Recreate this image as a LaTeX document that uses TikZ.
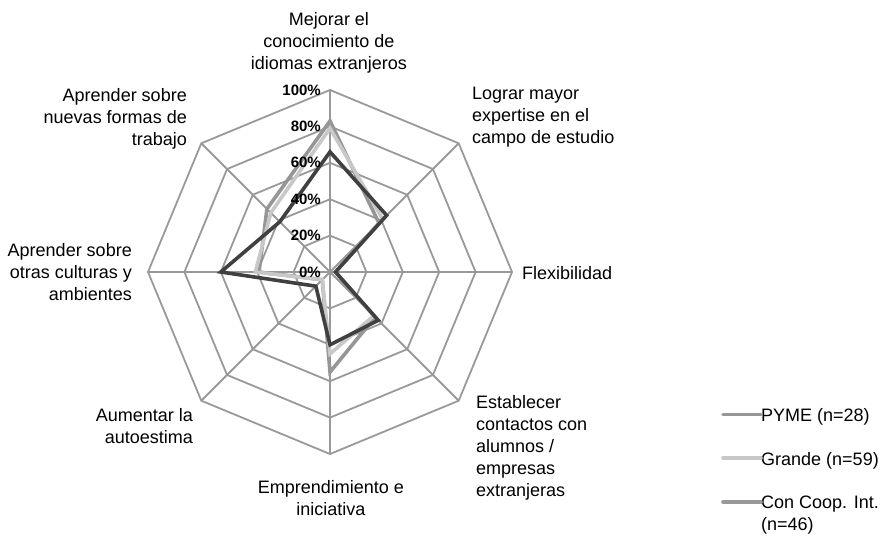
\documentclass[tikz,border=0pt]{standalone}
\usepackage{fontspec}
\setmainfont{Liberation Sans}
\definecolor{gridcol}{HTML}{999999}
\definecolor{pymecol}{HTML}{969696}
\definecolor{grandecol}{HTML}{C8C8C8}
\definecolor{coopcol}{HTML}{404040}
\definecolor{coopleg}{HTML}{999999}
\begin{document}
\begin{tikzpicture}[x=1pt,y=-1pt,
  lbl/.style={inner sep=0pt,font=\fontsize{18}{22}\selectfont},
  pct/.style={inner sep=0pt,anchor=east,font=\fontsize{15}{18}\selectfont\bfseries},
  gridline/.style={draw=gridcol,line width=1.8pt,line join=miter},
  serie/.style={line width=3.6pt,line join=miter},
  pyme/.style={serie,draw=pymecol},
  grande/.style={serie,draw=grandecol},
  coop/.style={serie,draw=coopcol},
  legline/.style={line width=3.6pt,line cap=round}
]
\useasboundingbox (0,0) rectangle (885,535);
\coordinate (c) at (330,272);
% grid rings
\foreach \i in {1,...,5} {
  \pgfmathsetmacro\r{36.4*\i}
  \draw[gridline] ([shift={(c)}]-90:\r) -- ([shift={(c)}]-45:\r) -- ([shift={(c)}]0:\r)
    -- ([shift={(c)}]45:\r) -- ([shift={(c)}]90:\r) -- ([shift={(c)}]135:\r)
    -- ([shift={(c)}]180:\r) -- ([shift={(c)}]225:\r) -- cycle;
}
% spokes
\foreach \k in {0,...,7} {
  \coordinate (v\k) at ([shift={(c)}]{-90+45*\k}:182);
  \draw[gridline] (c) -- (v\k);
}
% series points
\foreach \v [count=\k from 0] in {83,38,3,35,55,6,39,49}
  \coordinate (pa\k) at ([shift={(c)}]{-90+45*\k}:{1.82*\v});
\foreach \v [count=\k from 0] in {79,41,3,34,45,6,41,46}
  \coordinate (pb\k) at ([shift={(c)}]{-90+45*\k}:{1.82*\v});
\foreach \v [count=\k from 0] in {66,44,3,37.5,40,11,60,39}
  \coordinate (pc\k) at ([shift={(c)}]{-90+45*\k}:{1.82*\v});
\draw[pyme] (pa0) -- (pa1) -- (pa2) -- (pa3) -- (pa4) -- (pa5) -- (pa6) -- (pa7) -- cycle;
\draw[grande] (pb0) -- (pb1) -- (pb2) -- (pb3) -- (pb4) -- (pb5) -- (pb6) -- (pb7) -- cycle;
\draw[coop] (pc0) -- (pc1) -- (pc2) -- (pc3) -- (pc4) -- (pc5) -- (pc6) -- (pc7) -- cycle;
% percent labels
\node[pct] (t0) at (321,272) {0\%};
\node[pct] (t20) at (321,235.6) {20\%};
\node[pct] (t40) at (321,199.2) {40\%};
\node[pct] (t60) at (321,162.8) {60\%};
\node[pct] (t80) at (321,126.4) {80\%};
\node[pct] (t100) at (321,90) {100\%};
% axis labels
\node[lbl,anchor=north,align=center] (a0) at (329,12) {Mejorar el\\conocimiento de\\idiomas extranjeros};
\node[lbl,anchor=north west,align=left] (a1) at (472,87) {Lograr mayor\\expertise en el\\campo de estudio};
\node[lbl,anchor=base west] (a2) at (522,279) {Flexibilidad};
\node[lbl,anchor=north west,align=left] (a3) at (476,395) {Establecer\\contactos con\\alumnos /\\empresas\\extranjeras};
\node[lbl,anchor=north,align=center] (a4) at (331,480) {Emprendimiento e\\iniciativa};
\node[lbl,anchor=north east,align=right] (a5) at (193,408) {Aumentar la\\autoestima};
\node[lbl,anchor=north east,align=right] (a6) at (132,243) {Aprender sobre\\otras culturas y\\ambientes};
\node[lbl,anchor=north east,align=right] (a7) at (187,88) {Aprender sobre\\nuevas formas de\\trabajo};
% legend
\node[lbl,anchor=base west] (l1) at (761,421) {PYME (n=28)};
\node[lbl,anchor=base west] (l2) at (761,465) {Grande (n=59)};
\node[lbl,anchor=north west,align=left] (l3) at (761,496) {Con Coop. Int.\\(n=46)};
\coordinate (s1) at (723,414.5);
\coordinate (s2) at (723,458);
\coordinate (s3) at (723,502);
\draw[legline,draw=pymecol] (s1) -- (s1 -| l1.west);
\draw[legline,draw=grandecol] (s2) -- (s2 -| l2.west);
\draw[legline,draw=coopleg] (s3) -- (s3 -| l3.west);
\end{tikzpicture}
\end{document}
